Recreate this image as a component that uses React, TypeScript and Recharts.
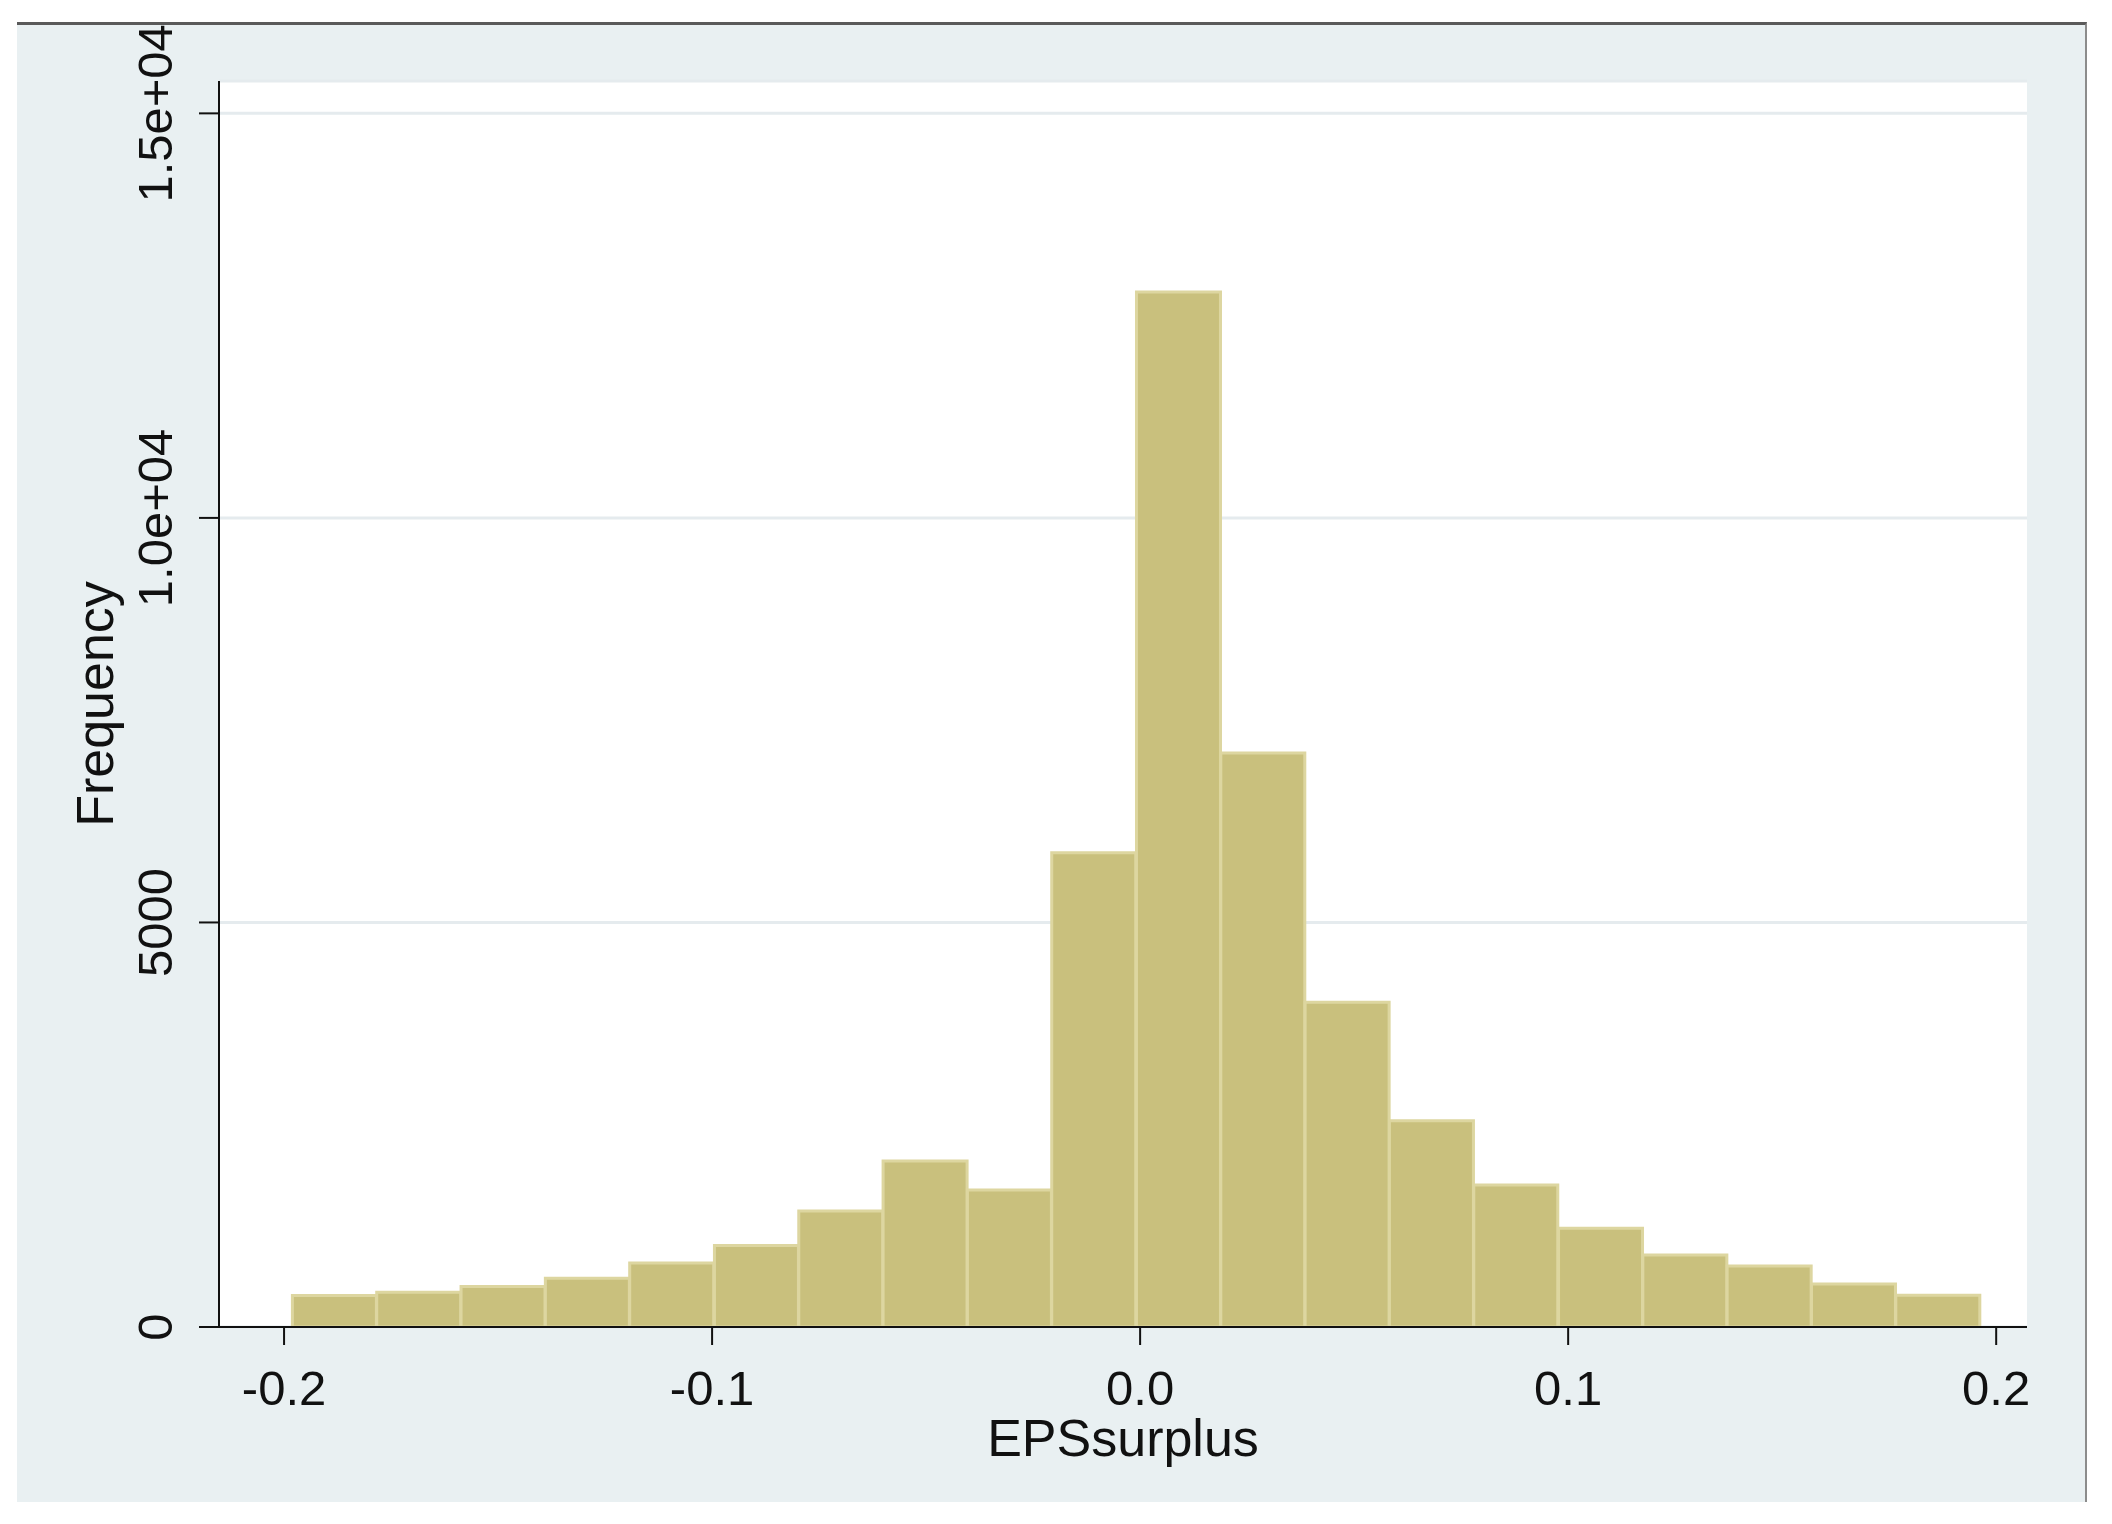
import { BarChart, Bar, XAxis, YAxis, CartesianGrid, Label } from "recharts";

// histogram of EPSsurplus, 20 bins (centres)
const binMids = [
  -0.1882, -0.1685, -0.1488, -0.1291, -0.1094, -0.0896, -0.0699, -0.0502, -0.0305, -0.0108,
  0.009, 0.0287, 0.0484, 0.0681, 0.0878, 0.1076, 0.1273, 0.147, 0.1667, 0.1864,
];
const frequencies = [
  390, 431, 501, 604, 790, 1008, 1433, 2051, 1693, 5862,
  12791, 7093, 4015, 2549, 1755, 1219, 890, 754, 531, 392,
];

const xTicks = [-0.2, -0.1, 0, 0.1, 0.2];
const xTickLabels = ["-0.2", "-0.1", "0.0", "0.1", "0.2"];
const yTicks = [0, 5000, 10000, 15000];
const yTickLabels = ["0", "5000", "1.0e+04", "1.5e+04"];

const data = binMids.map((x, i) => ({ x, freq: frequencies[i] }));

const FONT = '"Liberation Sans", Arial, sans-serif';
const INK = "#111";

function XTick({ x, y, payload }: any) {
  const i = xTicks.indexOf(payload.value);
  return (
    <text x={x} y={y + 60} textAnchor="middle" fontFamily={FONT} fontSize={49} fill={INK}>
      {i >= 0 ? xTickLabels[i] : payload.value}
    </text>
  );
}

function YTick({ x, y, payload }: any) {
  const i = yTicks.indexOf(payload.value);
  const bx = x - 27;
  return (
    <text
      x={bx}
      y={y}
      textAnchor="middle"
      transform={`rotate(-90, ${bx}, ${y})`}
      fontFamily={FONT}
      fontSize={49}
      fill={INK}
    >
      {i >= 0 ? yTickLabels[i] : payload.value}
    </text>
  );
}

function XTitle(props: any) {
  const vb = props.viewBox || { x: 0, y: 0, width: 0, height: 0 };
  return (
    <text x={vb.x + vb.width / 2} y={vb.y + 129} textAnchor="middle" fontFamily={FONT} fontSize={52} fill={INK}>
      EPSsurplus
    </text>
  );
}

function YTitle(props: any) {
  const vb = props.viewBox || { x: 0, y: 0, width: 0, height: 0 };
  const bx = vb.x + vb.width - 106;
  const cy = vb.y + vb.height / 2;
  return (
    <text
      x={bx}
      y={cy}
      textAnchor="middle"
      transform={`rotate(-90, ${bx}, ${cy})`}
      fontFamily={FONT}
      fontSize={52}
      fill={INK}
    >
      Frequency
    </text>
  );
}

export default function App() {
  return (
    <div style={{ position: "absolute", left: 0, top: 0, width: 2112, height: 1524, background: "#fff" }}>
      <div
        style={{
          position: "absolute",
          left: 17,
          top: 22,
          width: 2070,
          height: 1480,
          background: "#e9f0f2",
          borderTop: "3px solid #5a5a5a",
          borderRight: "2px solid #8c8c8c",
          boxSizing: "border-box",
        }}
      />
      <div style={{ position: "absolute", left: 0, top: 0 }}>
        <BarChart
          width={2112}
          height={1524}
          data={data}
          margin={{ top: 81, right: 85, left: 0, bottom: 0 }}
          barCategoryGap={0}
          barGap={0}
        >
          <CartesianGrid vertical={false} stroke="#e5ebee" strokeWidth={3} fill="#ffffff" />
          <XAxis
            dataKey="x"
            type="number"
            domain={[-0.2152, 0.2072]}
            ticks={xTicks}
            allowDataOverflow
            height={197}
            tickSize={18}
            tickMargin={0}
            axisLine={{ stroke: INK, strokeWidth: 2 }}
            tickLine={{ stroke: INK, strokeWidth: 2 }}
            tick={<XTick />}
          >
            <Label content={<XTitle />} />
          </XAxis>
          <YAxis
            type="number"
            domain={[0, 15400]}
            ticks={yTicks}
            allowDataOverflow
            width={219}
            tickSize={20}
            tickMargin={0}
            axisLine={{ stroke: INK, strokeWidth: 2 }}
            tickLine={{ stroke: INK, strokeWidth: 2 }}
            tick={<YTick />}
          >
            <Label content={<YTitle />} />
          </YAxis>
          <Bar dataKey="freq" fill="#c9c07d" stroke="#ddd6a0" strokeWidth={3} isAnimationActive={false} />
        </BarChart>
      </div>
    </div>
  );
}
